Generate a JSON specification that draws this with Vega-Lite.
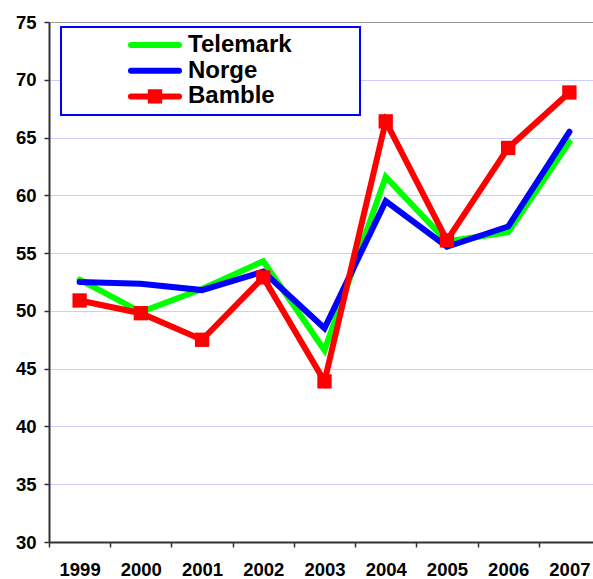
{
  "$schema": "https://vega.github.io/schema/vega-lite/v6.json",
  "width": 551,
  "height": 520,
  "autosize": {"type": "none"},
  "padding": {"left": 49, "top": 22, "right": 0, "bottom": 37},
  "background": "white",
  "config": {"view": {"stroke": null}, "font": "Liberation Sans"},
  "data": {
    "values": [
      {"year": "1999", "series": "Telemark", "value": 52.7},
      {"year": "2000", "series": "Telemark", "value": 49.9},
      {"year": "2001", "series": "Telemark", "value": 51.9},
      {"year": "2002", "series": "Telemark", "value": 54.3},
      {"year": "2003", "series": "Telemark", "value": 46.6},
      {"year": "2004", "series": "Telemark", "value": 61.6},
      {"year": "2005", "series": "Telemark", "value": 56.0},
      {"year": "2006", "series": "Telemark", "value": 56.8},
      {"year": "2007", "series": "Telemark", "value": 64.6},
      {"year": "1999", "series": "Norge", "value": 52.5},
      {"year": "2000", "series": "Norge", "value": 52.35},
      {"year": "2001", "series": "Norge", "value": 51.8},
      {"year": "2002", "series": "Norge", "value": 53.4},
      {"year": "2003", "series": "Norge", "value": 48.5},
      {"year": "2004", "series": "Norge", "value": 59.5},
      {"year": "2005", "series": "Norge", "value": 55.55},
      {"year": "2006", "series": "Norge", "value": 57.3},
      {"year": "2007", "series": "Norge", "value": 65.5},
      {"year": "1999", "series": "Bamble", "value": 50.9},
      {"year": "2000", "series": "Bamble", "value": 49.8},
      {"year": "2001", "series": "Bamble", "value": 47.5},
      {"year": "2002", "series": "Bamble", "value": 52.9},
      {"year": "2003", "series": "Bamble", "value": 43.9},
      {"year": "2004", "series": "Bamble", "value": 66.4},
      {"year": "2005", "series": "Bamble", "value": 56.1},
      {"year": "2006", "series": "Bamble", "value": 64.1},
      {"year": "2007", "series": "Bamble", "value": 68.9}
    ]
  },
  "encoding": {
    "x": {
      "field": "year",
      "type": "ordinal",
      "scale": {"type": "band", "paddingInner": 0, "paddingOuter": 0},
      "axis": {
        "title": null,
        "labelAngle": 0,
        "tickBand": "extent",
        "grid": false,
        "domainColor": "#333333",
        "domainWidth": 2,
        "tickColor": "#333333",
        "tickWidth": 1.5,
        "tickSize": 5,
        "labelFont": "Liberation Sans",
        "labelFontWeight": "bold",
        "labelFontSize": 18.5,
        "labelPadding": 13,
        "labelColor": "#000000"
      }
    },
    "y": {
      "field": "value",
      "type": "quantitative",
      "scale": {"domain": [30, 75], "nice": false, "zero": false},
      "axis": {
        "title": null,
        "values": [30, 35, 40, 45, 50, 55, 60, 65, 70, 75],
        "grid": true,
        "gridColor": {"condition": {"test": "datum.value === 75", "value": "#999999"}, "value": "#ccccff"},
        "gridWidth": 1,
        "domainColor": "#333333",
        "domainWidth": 2,
        "tickColor": "#333333",
        "tickWidth": 1.5,
        "tickSize": 5,
        "labelFont": "Liberation Sans",
        "labelFontWeight": "bold",
        "labelFontSize": 18.5,
        "labelPadding": 8,
        "labelColor": "#000000"
      }
    }
  },
  "layer": [
    {
      "mark": {"type": "line", "strokeWidth": 6, "strokeJoin": "miter", "strokeCap": "round"},
      "encoding": {
        "stroke": {
          "field": "series",
          "type": "nominal",
          "scale": {"domain": ["Telemark", "Norge", "Bamble"], "range": ["#00ff00", "#0000ff", "#ff0000"]},
          "legend": {
            "orient": "none",
            "legendX": 12,
            "legendY": 5,
            "title": null,
            "direction": "vertical",
            "symbolType": "M-3,0H3",
            "symbolSize": 256,
            "symbolStrokeWidth": 6,
            "symbolOffset": 76,
            "labelOffset": 21,
            "labelFont": "Liberation Sans",
            "labelFontSize": 24,
            "labelFontWeight": "bold",
            "labelColor": "#000000",
            "labelLimit": 500,
            "padding": 6,
            "rowPadding": 1.7,
            "fillColor": "#ffffff",
            "strokeColor": "#0000ff",
            "encode": {
              "legend": {"update": {"strokeWidth": {"value": 2}}},
              "entries": {"update": {"width": {"value": 287}, "noBound": {"value": false}}},
              "symbols": {"update": {"strokeCap": {"value": "round"}}}
            }
          }
        }
      }
    },
    {
      "transform": [{"filter": "datum.series === 'Bamble'"}],
      "mark": {"type": "point", "shape": "square", "filled": true, "size": 205, "opacity": 1, "strokeWidth": 0},
      "encoding": {
        "fill": {
          "field": "series",
          "type": "nominal",
          "scale": {"domain": ["Bamble"], "range": ["#ff0000"]},
          "legend": {
            "orient": "none",
            "legendX": 12,
            "legendY": 56.4,
            "title": null,
            "symbolType": "square",
            "symbolSize": 205,
            "symbolStrokeWidth": 0,
            "symbolOpacity": 1,
            "symbolOffset": 76,
            "labelFontSize": 24,
            "labelExpr": "''",
            "padding": 6
          }
        }
      }
    }
  ]
}
